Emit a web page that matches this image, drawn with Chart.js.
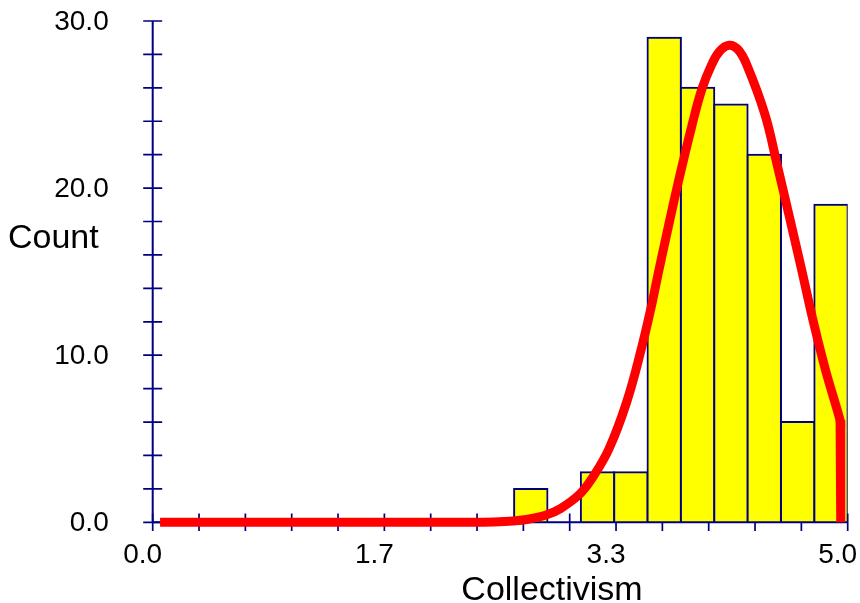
<!DOCTYPE html>
<html><head><meta charset="utf-8">
<script src="https://cdn.jsdelivr.net/npm/chart.js@4/dist/chart.umd.min.js"></script>
<style>html,body{margin:0;padding:0;background:#fff;overflow:hidden;}</style>
</head><body>
<canvas id="c" width="860" height="603"></canvas>
<script>
// ---- data ----
const binCenters = [2.72, 2.96, 3.20, 3.44, 3.68, 3.92, 4.16, 4.40, 4.64, 4.88];
const binCounts  = [2, 0, 3, 3, 29, 26, 25, 22, 6, 19];
const curveX = [0.053, 1.0, 2.0, 2.30, 2.45, 2.594, 2.70, 2.835, 2.930, 3.074, 3.170, 3.283, 3.410, 3.513, 3.592, 3.637, 3.702, 3.788, 3.878, 3.950, 4.022, 4.080, 4.146, 4.210, 4.273, 4.405, 4.491, 4.580, 4.669, 4.753, 4.844, 4.945, 4.950];
const curveY = [0, 0, 0, 0, 0.02, 0.08, 0.18, 0.45, 0.80, 1.70, 2.75, 4.40, 7.20, 10.3, 13.1, 14.9, 17.4, 20.6, 23.7, 25.9, 27.4, 28.2, 28.55, 28.3, 27.4, 24.4, 21.45, 18.3, 15.1, 12.0, 9.0, 6.12, 5.72];
const dropX = [4.945, 4.950, 4.950];
const dropY = [6.12, 5.72, 0];
const xTickLabelValues = [0, 5/3, 10/3, 5];
const xTickLabels = ['0.0', '1.7', '3.3', '5.0'];
const yTickLabelValues = [0, 10, 20, 30];
const yTickLabels = ['0.0', '10.0', '20.0', '30.0'];
const xMinorTicks = [0, 1/3, 2/3, 1, 4/3, 5/3, 2, 7/3, 8/3, 3, 10/3, 11/3, 4, 13/3, 14/3, 5];
const yMinorTicks = [0, 2, 4, 6, 8, 10, 12, 14, 16, 18, 20, 22, 24, 26, 28, 30];
const xTitle = 'Collectivism';
const yTitle = 'Count';

const FONT = "'Liberation Sans', Arial, Helvetica, sans-serif";
const NAVY = '#000080';

const axesPlugin = {
  id: 'axesPlugin',
  beforeDatasetsDraw(chart) {
    const ctx = chart.ctx, x = chart.scales.x, y = chart.scales.y;
    const x0 = x.getPixelForValue(0), x1 = x.getPixelForValue(5);
    const y0 = y.getPixelForValue(0), y1 = y.getPixelForValue(30);
    ctx.save();
    ctx.strokeStyle = NAVY;
    ctx.lineWidth = 2;
    ctx.beginPath();
    ctx.moveTo(x0, y1); ctx.lineTo(x0, y0);
    ctx.moveTo(x0, y0); ctx.lineTo(x1, y0);
    ctx.stroke();
    ctx.lineWidth = 1.7;
    ctx.beginPath();
    yMinorTicks.forEach(v => { const p = y.getPixelForValue(v); ctx.moveTo(x0 - 9.5, p); ctx.lineTo(x0 + 9.5, p); });
    xMinorTicks.forEach(v => { const p = x.getPixelForValue(v); ctx.moveTo(p, y0 - 8.7); ctx.lineTo(p, y0 + 8.7); });
    ctx.stroke();
    ctx.restore();
  },
  afterDraw(chart) {
    const ctx = chart.ctx;
    ctx.save();
    ctx.fillStyle = '#000';
    ctx.font = '34px ' + FONT;
    ctx.textBaseline = 'alphabetic';
    ctx.textAlign = 'left';
    ctx.fillText(yTitle, 8, 248);
    ctx.textAlign = 'center';
    ctx.fillText(xTitle, 552, 600);
    ctx.restore();
  }
};

const lineCommon = {
  type: 'line',
  borderColor: '#ff0000',
  borderWidth: 9,
  pointRadius: 0,
  fill: false,
  clip: false,
  borderCapStyle: 'butt',
  borderJoinStyle: 'miter',
  order: 0
};

new Chart(document.getElementById('c'), {
  type: 'bar',
  data: {
    datasets: [
      Object.assign({}, lineCommon, {
        data: curveX.map((v, i) => ({ x: v, y: curveY[i] })),
        tension: 0.4
      }),
      Object.assign({}, lineCommon, {
        data: dropX.map((v, i) => ({ x: v, y: dropY[i] })),
        tension: 0
      }),
      {
        type: 'bar',
        data: binCenters.map((v, i) => ({ x: v, y: binCounts[i] })),
        backgroundColor: '#ffff00',
        borderColor: NAVY,
        borderWidth: 2,
        inflateAmount: 1,
        borderSkipped: false,
        barPercentage: 1,
        categoryPercentage: 1,
        order: 1
      }
    ]
  },
  options: {
    responsive: false,
    animation: false,
    devicePixelRatio: 1,
    plugins: { legend: { display: false }, tooltip: { enabled: false } },
    layout: { padding: { top: 21, right: 12.3, left: 0, bottom: 0 } },
    scales: {
      x: {
        type: 'linear', min: 0, max: 5, offset: false,
        grid: { display: false, drawTicks: false },
        border: { display: false },
        afterBuildTicks: s => { s.ticks = xTickLabelValues.map(v => ({ value: v })); },
        ticks: {
          autoSkip: false, maxRotation: 0, minRotation: 0, padding: 16, labelOffset: -10,
          color: '#000', font: { family: FONT, size: 28 },
          callback: (v, i) => xTickLabels[i]
        },
        afterFit: s => { s.height = 80.7; s.paddingLeft = 0; s.paddingRight = 0; }
      },
      y: {
        type: 'linear', min: 0, max: 30,
        grid: { display: false, drawTicks: false },
        border: { display: false },
        afterBuildTicks: s => { s.ticks = yTickLabelValues.map(v => ({ value: v })); },
        ticks: {
          autoSkip: false, padding: 44, labelOffset: 1,
          color: '#000', font: { family: FONT, size: 28 },
          callback: (v, i) => yTickLabels[i]
        },
        afterFit: s => { s.width = 152.7; s.paddingTop = 0; s.paddingBottom = 0; }
      }
    }
  },
  plugins: [axesPlugin]
});
</script>
</body></html>
